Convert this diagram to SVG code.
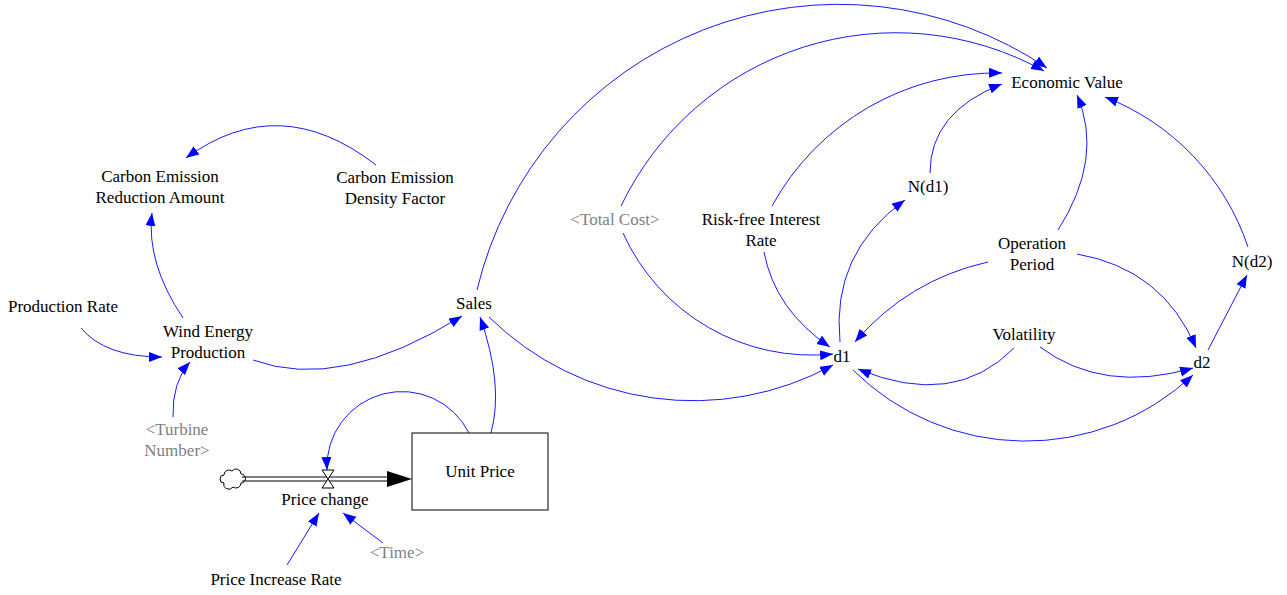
<svg xmlns="http://www.w3.org/2000/svg" width="1287" height="595" viewBox="0 0 1287 595">
<style>
text{font-family:"Liberation Serif","Times New Roman",serif;font-size:17px;fill:#000;text-anchor:middle}
text.shadow{fill:#808080}
.lk{fill:none;stroke:#1a1aff;stroke-width:1}
.pipe{fill:none;stroke:#000;stroke-width:1.2}
</style>
<defs>
<marker id="ah" markerUnits="userSpaceOnUse" markerWidth="14" markerHeight="12" refX="13" refY="5" orient="auto">
<path d="M0,0 L13,5 L0,10 Z" fill="#0000ff"/>
</marker>
</defs>
<rect width="1287" height="595" fill="#fff"/>
<g id="connectors">
<path class="lk" marker-end="url(#ah)" d="M376,165 Q279,90 186,158"/>
<path class="lk" marker-end="url(#ah)" d="M183,318 Q146,263 152,213"/>
<path class="lk" marker-end="url(#ah)" d="M81,328 Q105,357 162,357"/>
<path class="lk" marker-end="url(#ah)" d="M173,417 Q172,382 190,362"/>
<path class="lk" marker-end="url(#ah)" d="M253,360 Q340,392 462,316"/>
<path class="lk" marker-end="url(#ah)" d="M491,433 Q504,385 480,317"/>
<path class="lk" marker-end="url(#ah)" d="M469,433 A75,75 0 0 0 327,470"/>
<path class="lk" marker-end="url(#ah)" d="M489,317 A291,291 0 0 0 833,365"/>
<path class="lk" marker-end="url(#ah)" d="M477,290 A372,372 0 0 1 1047,68"/>
<path class="lk" marker-end="url(#ah)" d="M621,206 A305,305 0 0 1 1044,71"/>
<path class="lk" marker-end="url(#ah)" d="M623,233 A207,207 0 0 0 833,354"/>
<path class="lk" marker-end="url(#ah)" d="M764,252 Q775,310 830,347"/>
<path class="lk" marker-end="url(#ah)" d="M772,206 A256,256 0 0 1 1002,73"/>
<path class="lk" marker-end="url(#ah)" d="M930,173 Q930,112 1002,84"/>
<path class="lk" marker-end="url(#ah)" d="M840,342 Q831,253 905,200"/>
<path class="lk" marker-end="url(#ah)" d="M1058,230 Q1104,158 1077,95"/>
<path class="lk" marker-end="url(#ah)" d="M1248,247 A244,244 0 0 0 1105,97"/>
<path class="lk" marker-end="url(#ah)" d="M988,262 Q908,280 855,342"/>
<path class="lk" marker-end="url(#ah)" d="M1077,254 Q1163,269 1196,348"/>
<path class="lk" marker-end="url(#ah)" d="M1014,348 Q954,409 858,369"/>
<path class="lk" marker-end="url(#ah)" d="M1040,347 Q1103,394 1193,368"/>
<path class="lk" marker-end="url(#ah)" d="M853,370 A245,245 0 0 0 1193,375"/>
<path class="lk" marker-end="url(#ah)" d="M1208,350 L1247,275"/>
<path class="lk" marker-end="url(#ah)" d="M287,565 L319,513"/>
<path class="lk" marker-end="url(#ah)" d="M383,543 L343,513"/>
</g>
<g id="flow-price-change">
<path d="M224,483 a4,4 0 0 1 0,-8 a5,5 0 0 1 8,-4 a5,5 0 0 1 9,3 a4,4 0 0 1 0,9 a5,5 0 0 1 -8,4 a5,5 0 0 1 -9,-4 z" fill="#fff" stroke="#000" stroke-width="1"/>
<line class="pipe" x1="242" y1="477" x2="389" y2="477"/>
<line class="pipe" x1="242" y1="481" x2="389" y2="481"/>
<path d="M387,471 L412,479 L387,487 Z" fill="#000"/>
<path d="M322,470 L334,470 L322,488 L334,488 Z" fill="#fff" stroke="#000" stroke-width="1"/>
<text x="325" y="505">Price change</text>
</g>
<g id="unit-price">
<rect x="412" y="433" width="136" height="77" fill="#fff" stroke="#000" stroke-width="1"/>
<text x="480" y="477">Unit Price</text>
</g>
<g id="economic-value"><text x="1067" y="88">Economic Value</text></g>
<g id="carbon-emission-reduction-amount"><text x="160" y="182">Carbon Emission</text><text x="160" y="203">Reduction Amount</text></g>
<g id="carbon-emission-density-factor"><text x="395" y="183">Carbon Emission</text><text x="395" y="204">Density Factor</text></g>
<g id="production-rate"><text x="63" y="312">Production Rate</text></g>
<g id="wind-energy-production"><text x="208" y="337">Wind Energy</text><text x="208" y="358">Production</text></g>
<g id="turbine-number"><text class="shadow" x="177" y="435">&lt;Turbine</text><text class="shadow" x="177" y="456">Number&gt;</text></g>
<g id="sales"><text x="474" y="309">Sales</text></g>
<g id="total-cost"><text class="shadow" x="615" y="225">&lt;Total Cost&gt;</text></g>
<g id="risk-free-interest-rate"><text x="761" y="225">Risk-free Interest</text><text x="761" y="246">Rate</text></g>
<g id="n-d1"><text x="928" y="192">N(d1)</text></g>
<g id="operation-period"><text x="1032" y="249">Operation</text><text x="1032" y="270">Period</text></g>
<g id="n-d2"><text x="1252" y="267">N(d2)</text></g>
<g id="volatility"><text x="1024" y="340">Volatility</text></g>
<g id="d1"><text x="842" y="362">d1</text></g>
<g id="d2"><text x="1202" y="368">d2</text></g>
<g id="time"><text class="shadow" x="397" y="558">&lt;Time&gt;</text></g>
<g id="price-increase-rate"><text x="276" y="585">Price Increase Rate</text></g>
</svg>
